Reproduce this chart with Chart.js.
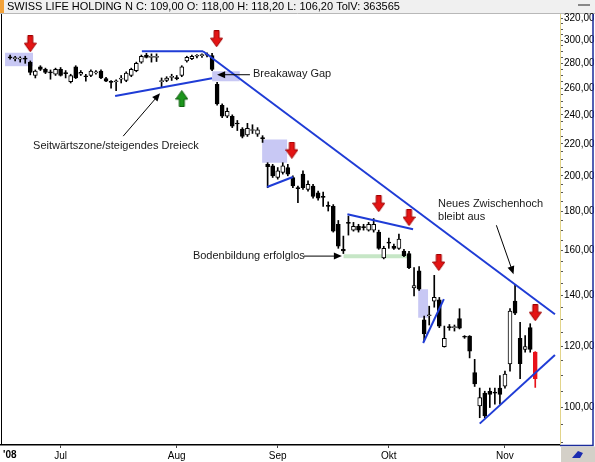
<!DOCTYPE html>
<html>
<head>
<meta charset="utf-8">
<style>
  html, body { margin: 0; padding: 0; background: #fff; }
  #wrap { width: 595px; height: 462px; }
</style>
<script src="https://cdn.jsdelivr.net/npm/chart.js@4.4.1/dist/chart.umd.min.js"></script>
</head>
<body>
<div id="wrap"><canvas id="c" width="595" height="462"></canvas></div>
<script>
/* Swiss Life daily candles, Jun 17 - Nov 11 2008, with chart-pattern notes */
var NAME = 'SWISS LIFE HOLDING N';
var VOLUME = 363565;

// one entry per trading day (index 0 = 17 Jun)
var OPEN  = [285.5, 284, 283.5, 284, 281, 270, 277, 275, 273, 271, 275, 272, 265, 277, 271, 269.5, 270, 272, 273.5, 267.5,
             265, 265, 267, 266, 270, 274, 281, 287, 285, 285, 265, 266, 268.5, 268, 270, 282, 284, 286, 286.5, 287,
             286.5, 263, 247, 239, 239, 234, 230, 226, 229, 226.5, 224, 207, 206, 199, 202, 205, 199, 193, 201, 192,
             194, 190, 188, 183, 182.5, 173, 160.5, 173.8, 170, 172, 171.5, 170, 170, 169, 156.5, 164, 162, 161, 159.7, 158.5,
             143, 150.5, 130, 131.6, 137.5, 138, 120, 127.4, 127, 130.5, 123.6, 123.8, 111, 100.5, 104.4, 105, 104.5, 106, 106.6, 113.9,
             137.5, 123, 119, 127, 118];
var HIGH  = [287, 286, 285.5, 286, 282, 274.5, 278, 276, 274.5, 276, 276.5, 274, 271, 278, 274, 271, 274.5, 274, 274.5, 268.5,
             266, 266.5, 270, 273, 276, 281, 287, 288.5, 288, 288, 268, 269, 271, 270, 278, 286, 287, 287.5, 288, 289,
             288.5, 264.5, 248, 245, 240, 236, 231, 234, 233, 231, 225.5, 208, 207, 205, 208, 207, 200, 194, 203, 197,
             195, 191, 190.5, 185, 183.5, 175, 167, 177.3, 174, 173, 173, 174, 176, 170, 162, 166, 163, 168, 160.5, 159.5,
             152, 152.5, 131.5, 135.4, 148.5, 139, 127.6, 128.2, 128, 134.4, 124, 124, 115.5, 106, 105, 106, 106, 110, 111.5, 134.4,
             144.5, 129, 124, 128.5, 118.2];
var LOW   = [283.5, 282, 281, 280, 270.5, 268, 274, 271.5, 267, 270, 269.5, 268, 264, 267.5, 270, 265.5, 269, 271, 267.5, 265,
             260, 258, 264, 265, 269, 273, 280, 284.5, 281, 281.5, 261, 265, 266, 266.5, 269, 281, 283, 284.5, 285, 285.5,
             274, 247, 238, 238, 231, 229, 224, 225, 227, 225, 221, 193, 199, 198, 201, 200, 193, 184.5, 192, 191,
             187, 186, 182.5, 180, 169, 161, 158.5, 167.5, 169.5, 169, 170, 169.5, 169, 160.5, 156, 161, 160.5, 160.5, 157, 151.5,
             139.6, 142, 122, 128, 135, 127, 119.8, 126, 125.7, 126.5, 123, 116, 106.5, 97, 97, 100, 101, 101, 106, 111.5,
             132, 109, 118, 118, 106.2];
var CLOSE = [284.5, 284.3, 283.8, 283.5, 272.5, 273.5, 275, 272.5, 272, 275, 270, 271.5, 270, 268, 272.5, 269, 273.5, 273, 268, 265.5,
             264.5, 265.2, 268, 272, 275, 280, 286, 285, 285.5, 285.3, 266, 268, 269, 267.5, 277, 285, 286, 286.3, 287, 287.5,
             275, 248, 239, 242.6, 232, 233.5, 225, 230.5, 229.5, 229.5, 223.5, 205.5, 200, 203, 206, 201, 194, 192.5, 193, 195,
             188, 187, 187.5, 182.5, 169.5, 162, 159.7, 173.5, 172, 170, 171.3, 173, 173, 161, 161, 163.5, 161, 165.5, 157.5, 152,
             144, 142.5, 124.6, 132, 139, 127.6, 123, 127, 127.2, 126.8, 123.4, 118.4, 107.3, 103, 97.5, 104, 104.4, 104, 110.5, 133.4,
             132.6, 114, 120, 119, 109];

var MONTH_POS = [10, 33, 53, 75, 98];
var MONTH_LABELS = ['Jul', 'Aug', 'Sep', 'Okt', 'Nov'];
var YEAR_LABEL = "'08";
var Y_LABELED = [100, 120, 140, 160, 180, 200, 220, 240, 260, 280, 300, 320];
var Y_MINOR_STEP = 5;

// trend lines [day0, price0, day1, price1]
var TRENDS = [
  [20.8, 254.0, 40.0, 267.7],
  [26.1, 290.3, 38.2, 290.3],
  [38.2, 290.3, 107.9, 132.2],
  [50.9, 193.4, 56.0, 199.3],
  [66.8, 178.3, 79.8, 170.5],
  [81.8, 121.3, 85.9, 138.3],
  [93.0, 95.3, 107.9, 117.0]
];
// shaded zones [day0, day1, top, bottom]
var ZONES = [
  [-1.0, 4.55, 289.0, 277.6],
  [40.0, 45.5, 273.5, 265.4],
  [49.9, 54.9, 223.0, 207.9],
  [80.8, 82.8, 142.5, 130.8]
];
var SUPPORT_BAND = [66.0, 79.5, 158.2, 156.3];

var SELL_X = [4.0, 40.9, 55.8, 73.0, 79.0, 84.9, 104.0];
var SELL_Y = [296.9, 301.4, 215.9, 184.0, 176.5, 154.3, 132.8];
var BUY_X = [34.0];
var BUY_Y = [251.9];

var NOTE_TEXT = ['Breakaway Gap', 'Seitwärtszone/steigendes Dreieck', 'Bodenbildung erfolglos', 'Neues Zwischenhoch', 'bleibt aus'];
var NOTE_X = [48.1, 4.55, 36.2, 84.75, 84.75];
var NOTE_Y = [271.0, 218.5, 157.3, 183.8, 176.7];
// pointer arrows [fromDay, fromPrice, toDay, toPrice]
var POINTERS = [
  [47.5, 270.6, 41.0, 270.6],
  [22.4, 225.2, 29.7, 256.0],
  [58.2, 157.3, 65.7, 157.3],
  [96.3, 172.5, 99.7, 149.0]
];

var FONT = "'Liberation Sans', Arial, sans-serif";
var BLUE = '#1f3cd6';
var ZONE = '#c8c8f4';
var BAND = '#c6e6c6';
var LAST = OPEN.length - 1;

function fmt(v) { return v.toFixed(2).replace('.', ','); }

function arrowImg(fill, edge, up) {
  var c = document.createElement('canvas');
  c.width = 13; c.height = 17;
  var g = c.getContext('2d');
  if (up) { g.translate(0, 17); g.scale(1, -1); }
  g.beginPath();
  g.moveTo(4, 0.5); g.lineTo(9, 0.5); g.lineTo(9, 8); g.lineTo(12.5, 8);
  g.lineTo(6.5, 16.5); g.lineTo(0.5, 8); g.lineTo(4, 8); g.closePath();
  g.fillStyle = fill; g.fill();
  g.strokeStyle = edge; g.lineWidth = 1; g.stroke();
  return c;
}

var days = OPEN.map(function (_, i) { return i; });
var datasets = [];

ZONES.forEach(function (z) {
  datasets.push({ type: 'line', data: [{ x: z[0], y: z[2] }, { x: z[1], y: z[2] }], fill: { value: z[3] },
    backgroundColor: ZONE, borderColor: 'rgba(0,0,0,0)', borderWidth: 0, pointRadius: 0, order: 20 });
});
datasets.push({ type: 'line', data: [{ x: SUPPORT_BAND[0], y: SUPPORT_BAND[2] }, { x: SUPPORT_BAND[1], y: SUPPORT_BAND[2] }],
  fill: { value: SUPPORT_BAND[3] }, backgroundColor: BAND, borderColor: 'rgba(0,0,0,0)', borderWidth: 0, pointRadius: 0, order: 20 });

datasets.push({
  type: 'bar', order: 6, grouped: false, barThickness: 1, borderWidth: 0,
  data: days.map(function (i) { return { x: i, y: [LOW[i], HIGH[i]] }; }),
  backgroundColor: function (ctx) { return ctx.dataIndex === LAST ? '#e8121a' : '#000'; }
});
datasets.push({
  type: 'bar', order: 5, grouped: false, barThickness: 4, borderWidth: 1, borderSkipped: false, minBarLength: 1,
  data: days.map(function (i) { return { x: i, y: [OPEN[i], CLOSE[i]] }; }),
  backgroundColor: function (ctx) {
    var i = ctx.dataIndex;
    if (i === LAST) { return '#e8121a'; }
    return CLOSE[i] < OPEN[i] ? '#000' : '#fff';
  },
  borderColor: function (ctx) { return ctx.dataIndex === LAST ? '#e8121a' : '#000'; }
});

TRENDS.forEach(function (t) {
  datasets.push({ type: 'line', data: [{ x: t[0], y: t[1] }, { x: t[2], y: t[3] }], borderColor: BLUE, borderWidth: 2,
    pointRadius: 0, fill: false, order: 2 });
});

datasets.push({ type: 'line', showLine: false, order: 1, pointRadius: 7, pointStyle: arrowImg('#e41414', '#a00000', false),
  data: SELL_X.map(function (x, i) { return { x: x, y: SELL_Y[i] }; }) });
datasets.push({ type: 'line', showLine: false, order: 1, pointRadius: 7, pointStyle: arrowImg('#1c961c', '#0b5a0b', true),
  data: BUY_X.map(function (x, i) { return { x: x, y: BUY_Y[i] }; }) });

var yTicks = [];
for (var v = 90; v <= 320; v += Y_MINOR_STEP) { yTicks.push(v); }

var decor = {
  id: 'decor',
  beforeDraw: function (chart) {
    var g = chart.ctx, a = chart.chartArea, W = chart.width;
    g.save();
    g.fillStyle = '#fff'; g.fillRect(0, 0, W, chart.height);
    g.fillStyle = '#f0f0f0'; g.fillRect(0, 0, W, a.top - 1);
    g.fillStyle = '#f2a23a'; g.fillRect(0, 0, 4, a.top - 1);
    g.strokeStyle = '#b8b8b8'; g.lineWidth = 1;
    g.beginPath(); g.moveTo(0, a.top - 0.5); g.lineTo(W, a.top - 0.5); g.stroke();
    g.strokeStyle = '#888'; g.lineWidth = 2;
    g.beginPath(); g.moveTo(578, 5); g.lineTo(590, 5); g.stroke();
    g.fillStyle = '#000'; g.font = '11px ' + FONT; g.textBaseline = 'middle';
    g.fillText(NAME + ' C: ' + fmt(CLOSE[LAST]) + ' O: ' + fmt(OPEN[LAST]) + ' H: ' + fmt(HIGH[LAST]) +
      ' L: ' + fmt(LOW[LAST]) + ' TolV: ' + VOLUME, 7, (a.top - 1) / 2 + 0.5);
    g.restore();
  },
  afterDatasetsDraw: function (chart) {
    var g = chart.ctx, sx = chart.scales.x, sy = chart.scales.y;
    g.save();
    g.fillStyle = '#1a1a1a'; g.font = '11px ' + FONT; g.textBaseline = 'middle';
    NOTE_TEXT.forEach(function (t, i) {
      g.fillText(t, sx.getPixelForValue(NOTE_X[i]), sy.getPixelForValue(NOTE_Y[i]));
    });
    g.strokeStyle = '#000'; g.fillStyle = '#000'; g.lineWidth = 1;
    POINTERS.forEach(function (p) {
      var x0 = sx.getPixelForValue(p[0]), y0 = sy.getPixelForValue(p[1]);
      var x1 = sx.getPixelForValue(p[2]), y1 = sy.getPixelForValue(p[3]);
      var ang = Math.atan2(y1 - y0, x1 - x0), L = 8, w = 3.5;
      g.beginPath(); g.moveTo(x0, y0); g.lineTo(x1 - Math.cos(ang) * 4, y1 - Math.sin(ang) * 4); g.stroke();
      g.beginPath();
      g.moveTo(x1, y1);
      g.lineTo(x1 - L * Math.cos(ang) + w * Math.sin(ang), y1 - L * Math.sin(ang) - w * Math.cos(ang));
      g.lineTo(x1 - L * Math.cos(ang) - w * Math.sin(ang), y1 - L * Math.sin(ang) + w * Math.cos(ang));
      g.closePath(); g.fill();
    });
    g.restore();
  },
  afterDraw: function (chart) {
    var g = chart.ctx, a = chart.chartArea, W = chart.width, H = chart.height;
    g.save();
    g.strokeStyle = '#000'; g.lineWidth = 1;
    g.beginPath(); g.moveTo(a.left + 0.5, a.top); g.lineTo(a.left + 0.5, a.bottom); g.stroke();
    g.strokeStyle = '#1c2c9c'; g.lineWidth = 1.5;
    g.beginPath(); g.moveTo(W - 2, a.top); g.lineTo(W - 2, a.bottom + 0.5); g.lineTo(a.right, a.bottom + 0.5); g.stroke();
    g.fillStyle = '#d4d0c8'; g.fillRect(a.right + 1, a.bottom + 1.5, W - a.right - 1, H - a.bottom - 1.5);
    g.fillStyle = '#1c2cb0';
    g.beginPath(); g.moveTo(572, 458); g.lineTo(578, 451); g.lineTo(583, 453); g.lineTo(580, 458); g.closePath(); g.fill();
    g.fillStyle = '#000'; g.font = 'bold 10px ' + FONT; g.textBaseline = 'top';
    g.fillText(YEAR_LABEL, 3, a.bottom + 5);
    g.restore();
  }
};

new Chart(document.getElementById('c'), {
  type: 'bar',
  data: { datasets: datasets },
  options: {
    responsive: false,
    animation: false,
    events: [],
    layout: { autoPadding: false, padding: { left: 1, right: 1, top: 14, bottom: 0 } },
    plugins: { legend: { display: false }, tooltip: { enabled: false }, title: { display: false } },
    scales: {
      x: {
        type: 'linear', min: -1.8, max: 108.9, offset: false,
        afterBuildTicks: function (s) { s.ticks = MONTH_POS.map(function (p) { return { value: p }; }); },
        afterFit: function (s) { s.height = 17; },
        ticks: {
          autoSkip: false, maxRotation: 0, padding: 2, color: '#000', font: { size: 10, family: FONT },
          callback: function (v) { var k = MONTH_POS.indexOf(v); return k < 0 ? '' : MONTH_LABELS[k]; }
        },
        grid: { drawOnChartArea: false, offset: false, tickLength: 3, color: '#444' },
        border: { color: '#000', width: 1.5 }
      },
      y: {
        type: 'logarithmic', position: 'right', min: 89.4, max: 324.5,
        afterBuildTicks: function (s) { s.ticks = yTicks.map(function (t) { return { value: t }; }); },
        afterFit: function (s) { s.width = 34; },
        ticks: {
          autoSkip: false, padding: 1, color: '#000', font: { size: 10, family: FONT },
          callback: function (v) { return Y_LABELED.indexOf(v) >= 0 ? fmt(v) : ''; }
        },
        grid: { drawOnChartArea: false, tickLength: 3, color: '#555' },
        border: { color: '#e2d48a', width: 1 }
      }
    }
  },
  plugins: [decor]
});
</script>
</body>
</html>
